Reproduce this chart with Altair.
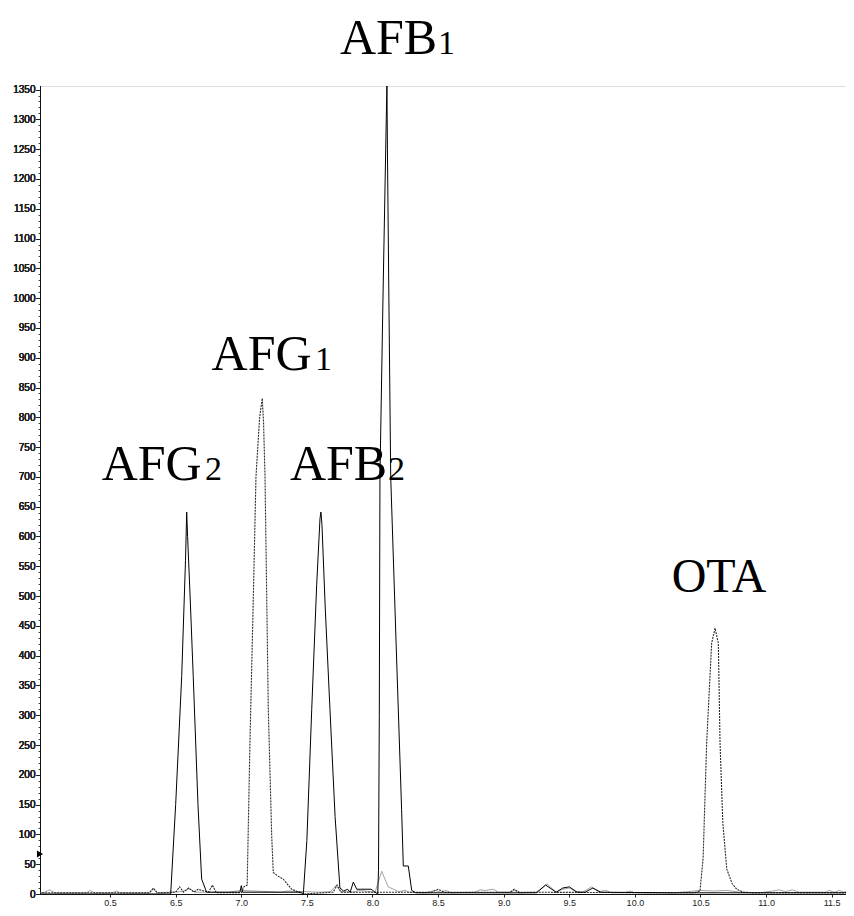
import altair as alt
import pandas as pd

# ---- data ----
# solid black trace (AFG2, AFB2, AFB1)
solid_x = [5.46, 6.462, 6.50, 6.546, 6.575, 6.584, 6.591, 6.610, 6.634, 6.670, 6.698, 6.736,
           6.77, 6.99, 7.00, 7.01, 7.46, 7.473, 7.50, 7.537, 7.575, 7.600, 7.607, 7.615, 7.640,
           7.676, 7.715, 7.752, 7.78, 7.81, 7.83, 7.854, 7.88, 7.91, 7.99, 8.02, 8.040, 8.046,
           8.052, 8.057, 8.080, 8.105, 8.110, 8.114, 8.125, 8.139, 8.18, 8.222, 8.235, 8.273,
           8.299, 8.33, 9.25, 9.32, 9.40, 9.45, 9.50, 9.56, 9.62, 9.68, 9.74, 10.3, 11.66]
solid_y = [0, 0, 150, 365, 560, 641, 600, 500, 365, 150, 25, 3,
           3, 3, 14, 3, 3, 0, 90, 310, 520, 630, 641, 620, 480,
           310, 130, 10, 5, 8, 3, 20, 8, 8, 8, 3, 0, 40,
           300, 700, 1000, 1300, 1356, 1250, 1000, 700, 421, 142, 47, 47,
           6, 2, 2, 15, 3, 10, 12, 3, 3, 10, 3, 2, 2]

# dotted trace (AFG1, OTA)
dot_x = [5.46, 6.30, 6.33, 6.36, 6.50, 6.53, 6.56, 6.60, 6.64, 6.67, 6.75, 6.78, 6.81, 7.00,
         7.02, 7.045, 7.066, 7.09, 7.112, 7.14, 7.160, 7.170, 7.181, 7.206, 7.232, 7.244, 7.28,
         7.320, 7.384, 7.473, 7.70, 7.73, 7.76, 8.45, 8.50, 8.55, 9.05, 9.08, 9.12, 10.45,
         10.496, 10.52, 10.547, 10.585, 10.611, 10.636, 10.649, 10.67, 10.700, 10.74, 10.776,
         10.826, 10.9, 11.66]
dot_y = [2, 2, 10, 2, 3, 12, 3, 10, 3, 8, 3, 15, 2, 2,
         12, 15, 253, 480, 700, 800, 832, 790, 700, 310, 97, 36, 30,
         25, 8, 0, 3, 15, 3, 3, 8, 3, 3, 8, 3, 2,
         5, 60, 253, 421, 446, 421, 253, 120, 42, 18, 8,
         3, 2, 2]

# grey baseline trace
base_x = [5.46, 5.50, 5.54, 5.58, 5.82, 5.85, 5.88, 6.02, 6.05, 6.08, 6.30, 6.33, 6.36, 6.55,
          6.60, 6.65, 6.90, 7.00, 7.30, 7.35, 7.60, 7.68, 7.72, 7.76, 7.85, 7.90, 8.02, 8.07,
          8.12, 8.20, 8.25, 8.28, 8.40, 8.48, 8.52, 8.56, 8.60, 8.78, 8.82, 8.86, 8.92, 8.96,
          9.05, 9.08, 9.12, 9.25, 9.33, 9.40, 9.45, 9.50, 9.55, 9.60, 9.67, 9.72, 9.78, 9.82,
          9.92, 9.96, 10.0, 10.3, 10.4, 10.5, 10.6, 10.7, 10.8, 10.95, 11.05, 11.10, 11.15,
          11.20, 11.25, 11.45, 11.48, 11.52, 11.56, 11.59, 11.62, 11.66]
base_y = [2, 3, 7, 2, 2, 6, 2, 2, 5, 2, 2, 8, 2, 4,
          9, 3, 3, 6, 3, 5, 3, 4, 14, 4, 3, 6, 3, 38,
          12, 4, 6, 3, 2, 6, 3, 6, 2, 3, 7, 6, 8, 3,
          3, 6, 2, 3, 17, 3, 8, 10, 4, 3, 12, 4, 6, 2,
          2, 5, 2, 2, 4, 6, 5, 6, 3, 2, 5, 7, 4,
          7, 3, 3, 6, 3, 6, 3, 5, 3]

# peak labels (main part + subscript), left edge x and baseline y in data units
label_text = ["AFB", "1", "AFG", "1", "AFG", "2", "AFB", "2", "OTA"]
label_x = [7.752, 8.499, 6.774, 7.562, 5.936, 6.723, 7.371, 8.118, 10.280]
label_y = [1410, 1410, 879, 879, 695, 695, 695, 695, 507]
label_size = [50, 34, 50, 34, 50, 34, 50, 34, 48]

# axis ticks
x_ticks = [6.0, 6.5, 7.0, 7.5, 8.0, 8.5, 9.0, 9.5, 10.0, 10.5, 11.0, 11.5]
y_ticks = list(range(0, 1351, 50))
y_minor = list(range(0, 1351, 10))
marker_y = [67]

X_DOMAIN = [5.466, 11.609]
Y_DOMAIN = [0, 1356]

solid_df = pd.DataFrame({"t": solid_x, "v": solid_y})
dot_df = pd.DataFrame({"t": dot_x, "v": dot_y})
base_df = pd.DataFrame({"t": base_x, "v": base_y})
lab_df = pd.DataFrame({"t": label_x, "v": label_y, "txt": label_text, "size": label_size})
mark_df = pd.DataFrame({"t": [X_DOMAIN[0]], "v": marker_y})

xscale = alt.Scale(domain=X_DOMAIN, nice=False, zero=False)
yscale = alt.Scale(domain=Y_DOMAIN, nice=False)

x_enc = alt.X("t:Q", scale=xscale, axis=alt.Axis(
    values=x_ticks, title=None, grid=False,
    labelExpr="datum.value == 6 ? '0.5' : format(datum.value, '.1f')",
    labelFont="Liberation Sans", labelFontSize=9, labelColor="#222",
    tickSize=3, tickColor="#222", domainColor="#111", labelPadding=1))

y_major = alt.Y("v:Q", scale=yscale, axis=alt.Axis(
    values=y_ticks, title=None, grid=False, orient="left", format="d",
    labelFont="Liberation Sans", labelFontSize=10, labelColor="#222",
    tickSize=4, tickColor="#222", domainColor="#111", labelPadding=1))

y_min = alt.Y("v:Q", scale=yscale, axis=alt.Axis(
    values=y_minor, title=None, grid=False, orient="left", labels=False,
    tickSize=2, tickColor="#444", domainColor="#111"))

base_line = alt.Chart(base_df).mark_line(color="#8a8a8a", strokeWidth=0.8, clip=True).encode(
    x=x_enc, y=y_major)
minor_layer = alt.Chart(base_df).mark_line(opacity=0).encode(x=x_enc, y=y_min)
dot_line = alt.Chart(dot_df).mark_line(color="#2a2a2a", strokeWidth=1.1, clip=True,
                                       strokeDash=[2, 1]).encode(x=x_enc, y=y_major)
solid_line = alt.Chart(solid_df).mark_line(color="#000000", strokeWidth=1, clip=True).encode(
    x=x_enc, y=y_major)

labels = alt.Chart(lab_df).mark_text(
    font="Liberation Serif", align="left", baseline="alphabetic", color="#000"
).encode(x=x_enc, y=y_major, text="txt:N", size=alt.Size("size:Q", scale=None, legend=None))

marker = alt.Chart(mark_df).mark_point(
    shape="triangle-right", filled=True, color="#000", size=50, opacity=1, dx=-4
).encode(x=x_enc, y=y_major)

chart = alt.layer(base_line, minor_layer, dot_line, solid_line, labels, marker).resolve_axis(
    y="independent"
).properties(
    width=806, height=808,
    autosize=alt.AutoSizeParams(type="none"),
    padding={"left": 32, "top": 78, "right": 0, "bottom": 14},
).configure_view(stroke=None).configure(background="white")

chart.save("out.html", embed_options={"renderer": "svg", "actions": False})
